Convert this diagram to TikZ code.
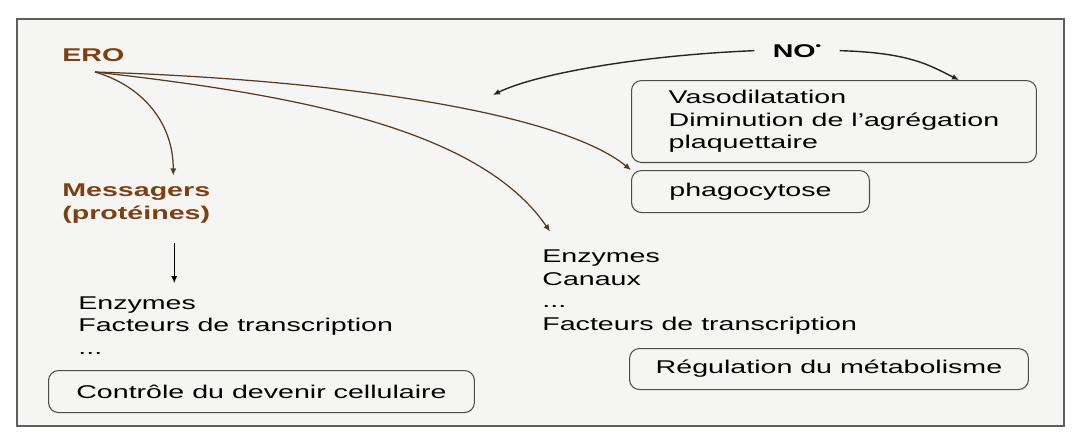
\documentclass[tikz,border=0pt]{standalone}
\usepackage{fontspec}
\setmainfont[FakeStretch=1.55]{Liberation Sans}
\usetikzlibrary{arrows.meta}
\definecolor{ero_brown}{HTML}{7E3F12}
\definecolor{ero_line}{HTML}{5A3A1E}
\definecolor{frame_gray}{HTML}{5E5E5E}
\definecolor{panel_bg}{HTML}{F5F6F4}

\begin{document}
\begin{tikzpicture}[
    x=0.02cm, y=0.02cm, >={Latex[length=4pt, width=3.5pt]},
    every node/.style={font=\fontsize{10.5}{12.8}\selectfont, inner sep=0pt, align=left},
    result_box/.style={draw=black!70, line width=0.6pt, rounded corners=0.2cm, anchor=north west, align=left},
    ero_arrow/.style={->, draw=ero_line, line width=0.7pt},
    no_arrow/.style={->, draw=black!85, line width=0.8pt}
]
\useasboundingbox (0,0) rectangle (1092,-434);
\draw[frame_gray, line width=1.3pt, fill=panel_bg] (17,-19) rectangle (1064,-426);

\node (ero_label) [anchor=base west, text=ero_brown, font=\fontsize{10.5}{12.8}\selectfont\bfseries] at (62,-61) {ERO};
\node (messagers_label) [anchor=base west, text=ero_brown, font=\fontsize{10.5}{12.8}\selectfont\bfseries] at (62,-219) {Messagers\\(protéines)};
\node (left_list) [anchor=base west] at (78,-354) {Enzymes\\Facteurs de transcription\\...};
\node (controle_box) [result_box, minimum width=8.52cm, minimum height=0.84cm] at (48,-370) {Contrôle du devenir cellulaire};
\node (right_list) [anchor=base west] at (542,-330) {Enzymes\\Canaux\\...\\Facteurs de transcription};
\node (regulation_box) [result_box, minimum width=7.98cm, minimum height=0.82cm] at (629,-348) {Régulation du métabolisme};
\node (no_label) [anchor=base, inner xsep=0.36cm, font=\fontsize{10.5}{12.8}\selectfont\bfseries] at (797,-57) {NO\raisebox{0.8ex}{\scalebox{0.55}{\textbullet}}};
\node (no_box) [result_box, minimum width=8.1cm, minimum height=1.64cm] at (631,-80) {Vasodilatation\\Diminution de l'agrégation\\plaquettaire};
\node (phago_box) [result_box, minimum width=4.76cm, minimum height=0.84cm] at (631,-170) {phagocytose};
\coordinate (ero_src) at (95,-72);
\coordinate (no_left_end) at (493,-95);

\draw[ero_arrow] (ero_src) .. controls +(45,-13) and +(0,55) .. ([xshift=0.74cm, yshift=0.16cm]messagers_label.north);
\draw[ero_arrow] (ero_src) .. controls +(205,-23) and +(-70,102) .. ([xshift=0.16cm, yshift=0.36cm]right_list.north west);
\draw[ero_arrow] (ero_src) .. controls +(255,-8) and +(-69,56) .. (phago_box.north west);
\draw[->, line width=0.7pt] ([xshift=0.76cm, yshift=-0.4cm]messagers_label.south) -- ([xshift=0.76cm, yshift=-1.2cm]messagers_label.south);
\draw[no_arrow] (no_label.west) .. controls +(-120,-5) and +(40,20) .. (no_left_end);
\draw[no_arrow] (no_label.east) .. controls +(70,-2) and +(-30,15) .. ([xshift=-1.56cm]no_box.north east);
\end{tikzpicture}
\end{document}
